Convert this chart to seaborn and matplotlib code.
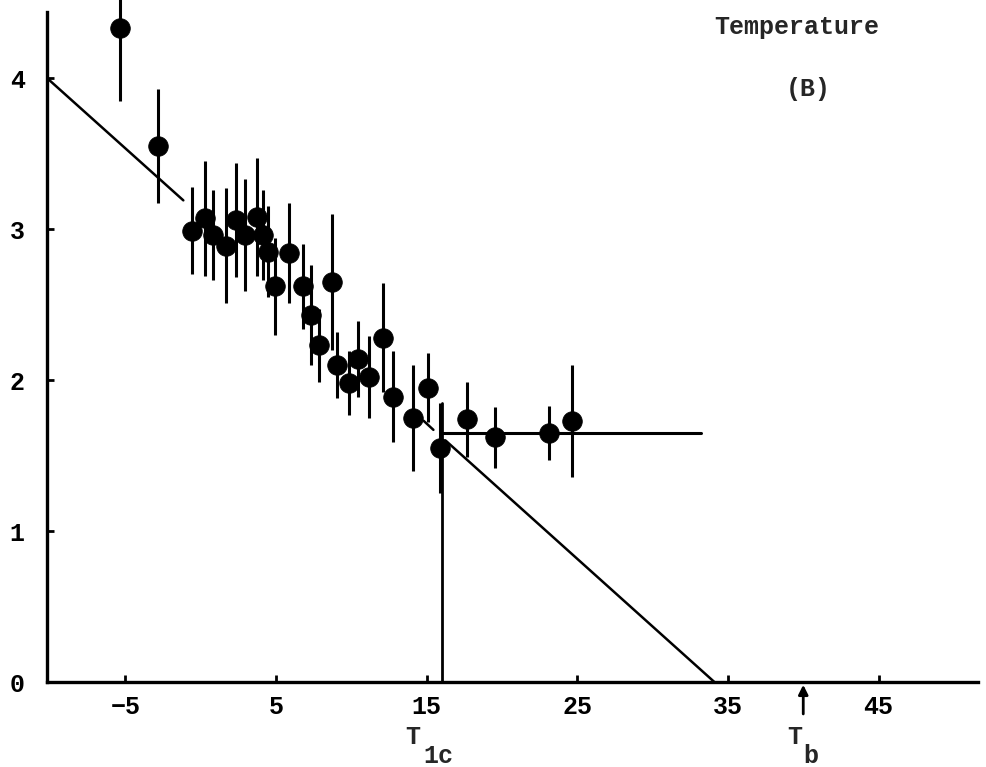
import numpy as np
import pandas as pd
import matplotlib
matplotlib.use("Agg")
import matplotlib.pyplot as plt
import seaborn as sns

# values
temp = [-5.33, -2.81, -0.55, 0.31, 0.84, 1.71, 2.37, 2.97, 3.77, 4.16,
        4.50, 4.96, 5.89, 6.82, 7.35, 7.88, 8.75, 9.08, 9.87, 10.47,
        11.20, 12.13, 12.80, 14.12, 15.12, 15.9, 17.71, 19.57, 23.09, 24.68]
rate = [4.33, 3.55, 2.99, 3.07, 2.96, 2.89, 3.06, 2.96, 3.08, 2.96,
        2.85, 2.62, 2.84, 2.62, 2.43, 2.23, 2.65, 2.10, 1.98, 2.14,
        2.02, 2.28, 1.89, 1.75, 1.95, 1.55, 1.74, 1.62, 1.65, 1.73]
err = [0.48, 0.38, 0.29, 0.38, 0.30, 0.38, 0.38, 0.37, 0.39, 0.30,
       0.30, 0.32, 0.33, 0.28, 0.33, 0.24, 0.45, 0.22, 0.21, 0.25,
       0.27, 0.36, 0.30, 0.35, 0.23, 0.30, 0.25, 0.20, 0.18, 0.37]

x_ticks = [-5, 5, 15, 25, 35, 45]
y_ticks = [0, 1, 2, 3, 4]

# fitted line pieces (x, y)
fit_a_x, fit_a_y = [-10.2, -1.15], [4.0, 3.19]
fit_b_x, fit_b_y = [14.8, 15.45], [1.73, 1.67]
fit_c_x, fit_c_y = [16.25, 34.1], [1.60, 0.0]
plateau_x, plateau_y = [16.0, 33.2], [1.65, 1.65]
t1c = 16.0
t1c_top = 1.85
tb = 40.0

df = pd.DataFrame({"temp": temp, "rate": rate, "err": err})

sns.set_style("ticks")
plt.rcParams["font.family"] = ["Liberation Mono", "DejaVu Sans Mono"]
plt.rcParams["font.weight"] = "bold"

fs = 18
fig = plt.figure(figsize=(9.87, 7.67), dpi=100)
ax = fig.add_axes([47 / 987, 85 / 767, 931 / 987, 682 / 767])

ax.errorbar(df.temp, df.rate, yerr=df.err, fmt="none", ecolor="black",
            elinewidth=2.2, capsize=0, clip_on=False, zorder=3)
sns.scatterplot(data=df, x="temp", y="rate", ax=ax, color="black", s=200,
                edgecolor="black", linewidth=0.5, zorder=4, clip_on=False)

lw = 1.8
ax.plot(fit_a_x, fit_a_y, color="black", lw=lw)
ax.plot(fit_b_x, fit_b_y, color="black", lw=lw)
ax.plot(fit_c_x, fit_c_y, color="black", lw=lw)
ax.plot(plateau_x, plateau_y, color="black", lw=2.2)
ax.plot([t1c, t1c], [0, t1c_top], color="black", lw=2.0)

ax.set_xlim(-10.2, 51.6)
ax.set_ylim(0, 4.517)
ax.set_xticks(x_ticks)
ax.set_yticks(y_ticks)
ax.set_xlabel("")
ax.set_ylabel("")

sns.despine(ax=ax)
ax.spines["left"].set_bounds(0, 4.44)
for side in ["left", "bottom"]:
    ax.spines[side].set_linewidth(2.4)
    ax.spines[side].set_color("black")
ax.tick_params(axis="both", direction="in", length=5, width=2,
               labelsize=fs, colors="black")
ax.tick_params(axis="x", pad=9)
ax.tick_params(axis="y", pad=16)

ax.text(39.55, 4.34, "Temperature", ha="center", va="center", fontsize=fs)
ax.text(40.35, 3.93, "(B)", ha="center", va="center", fontsize=fs)

fig.text(413 / 987, 1 - 737 / 767, "T", ha="center", va="center", fontsize=fs)
fig.text(438 / 987, 1 - 756 / 767, "1c", ha="center", va="center", fontsize=fs)
fig.text(795 / 987, 1 - 737 / 767, "T", ha="center", va="center", fontsize=fs)
fig.text(811 / 987, 1 - 756 / 767, "b", ha="center", va="center", fontsize=fs)
ax.annotate("", xy=(tb, 0), xytext=(tb, -0.23), annotation_clip=False,
            arrowprops=dict(arrowstyle="-|>", color="black", lw=2,
                            mutation_scale=14))

fig.savefig("out.png", dpi=100)
